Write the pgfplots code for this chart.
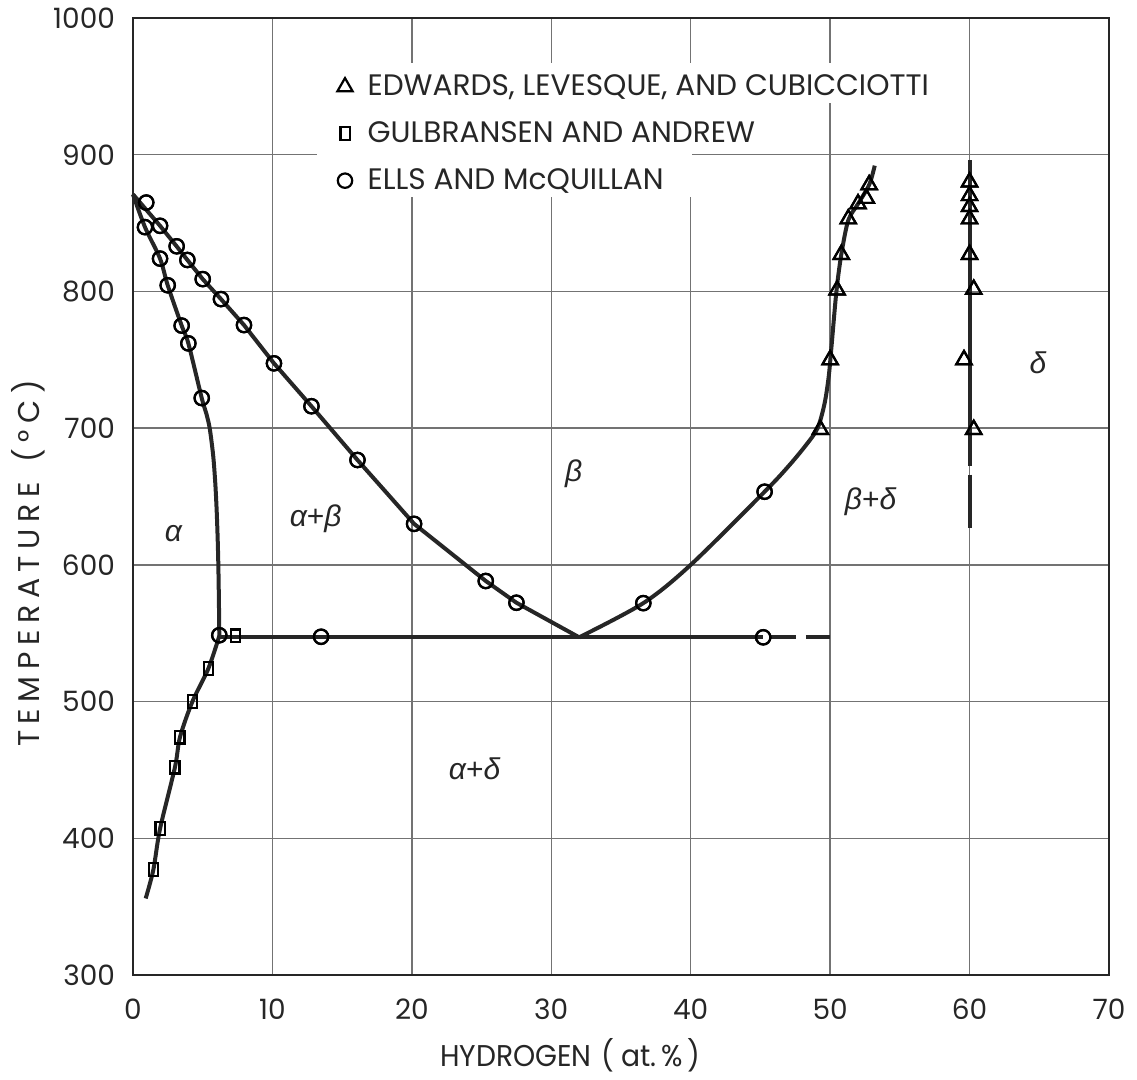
\documentclass[border=0pt]{standalone}
\usepackage{pgfplots}
\pgfplotsset{compat=1.18}
\usepackage{fontspec}
\setmainfont{Poppins}
\newfontfamily\gk{Liberation Sans}
\begin{document}
\begin{tikzpicture}
\begin{axis}[
  scale only axis, width=488pt, height=478.5pt,
  xmin=0, xmax=70, ymin=300, ymax=1000,
  xtick={0,10,...,70}, ytick={300,400,...,1000},
  grid=major, grid style={black!55, line width=0.7pt},
  axis line style={black!85, line width=1pt},
  major tick length=0pt,
  clip=false,
  /pgf/number format/1000 sep={},
  /pgf/number format/assume math mode=true,
  tick label style={font=\fontsize{14}{16}\selectfont, text=black!85},
  xticklabel style={yshift=-8.5pt},
  yticklabel style={xshift=-5.5pt},
  xlabel={HYDROGEN\,\,( at.\,\%\,)},
  ylabel={\addfontfeatures{LetterSpace=22}TEMPERATURE \,(°C)},
  label style={font=\fontsize{15}{17}\selectfont, text=black!85},
  xlabel style={at={(axis description cs:0.448,-0.084)}, anchor=center, xscale=0.94},
  ylabel style={at={(axis description cs:-0.107,0.43)}, anchor=center},
  legend style={at={(axis cs:14.2,964.5)}, anchor=north west, draw=none, fill=none,
    font=\fontsize{14.8}{17}\selectfont, row sep=7.5pt, text=black!85,
    /tikz/every odd column/.append style={column sep=5.5pt}},
  legend cell align=left,
  mark options={solid},
]
% white masks behind legend text
\fill[white] (axis cs:12.0,967) rectangle (axis cs:58.2,938);
\fill[white] (axis cs:12.0,938) rectangle (axis cs:49.0,902.5);
\fill[white] (axis cs:13.2,902.5) rectangle (axis cs:40.1,869);

% legend entries / data marks
\addplot[only marks, mark=triangle, mark size=4.4pt, mark options={fill=white, draw=black, line width=1.1pt}]
 coordinates {(49.3,699) (50.0,750) (50.5,801) (50.8,827) (51.3,853) (52.0,864) (52.6,868) (52.8,878)
 (60,880) (60,870) (60,862) (60,853) (60,827) (60.3,801.5) (59.6,750) (60.3,699)};
\addlegendentry{EDWARDS, LEVESQUE, AND CUBICCIOTTI}
\addplot[only marks, mark=square, mark size=3.2pt, mark options={fill=white, draw=black, line width=1.1pt, xscale=0.72}]
 coordinates {(1.46,377) (1.94,407) (3.01,452) (3.37,474) (4.26,500) (5.4,524) (7.37,548)};
\addlegendentry{GULBRANSEN AND ANDREW}
\addplot[only marks, mark=o, mark size=3.6pt, mark options={fill=white, draw=black, line width=1.1pt}]
 coordinates {(0.95,865) (0.86,847) (1.94,824) (2.49,804.5) (3.49,775) (3.97,762) (4.93,722)
 (1.94,848) (3.13,833) (3.9,823) (5.0,809) (6.31,794.4) (7.96,775.4) (10.11,747.4) (12.8,716)
 (16.1,676.7) (20.16,630) (25.3,588.2) (27.5,572.3) (36.6,572) (45.3,653.5)
 (6.19,548.5) (13.49,547.4) (45.2,547)};
\addlegendentry{ELLS AND McQUILLAN}

% phase boundaries
\addplot[black!85, line width=2pt, smooth, tension=0.5, forget plot]
 coordinates {(0,871) (0.86,847) (1.94,824) (2.49,804.5) (3.49,775) (3.97,762) (4.93,722)
 (5.25,711) (5.5,700) (5.75,680) (5.9,660) (6.0,640) (6.07,620) (6.12,600) (6.16,575) (6.19,548)};
\addplot[black!85, line width=2pt, sharp plot, forget plot]
 coordinates {(0,871) (1.94,848) (3.13,833) (3.9,823) (5.0,809) (6.31,794.4) (7.96,775.4)
 (10.11,747.4) (12.8,716) (16.1,676.7) (20.16,630) (25.3,588.2) (27.5,572.3) (32,547)};
\addplot[black!85, line width=2pt, smooth, tension=0.5, forget plot]
 coordinates {(32,547) (36.6,572) (40,600) (45.3,653.5) (47,672) (48.3,688) (49.1,700)
 (49.6,718) (49.9,738) (50.1,760) (50.45,800) (50.8,827) (51.3,852) (52,864) (52.8,878) (53.2,892)};
\addplot[black!85, line width=2pt, smooth, tension=0.5, forget plot]
 coordinates {(0.91,356) (1.46,377) (1.94,407) (3.01,452) (3.37,474) (4.26,500) (5.4,524) (6.19,548)};
\addplot[black!85, line width=2pt, forget plot] coordinates {(6.19,547) (45.2,547)};
\addplot[black!85, line width=2pt, dash pattern=on 12.5pt off 5pt, forget plot] coordinates {(45.75,547) (50,547)};
\addplot[black!85, line width=2pt, forget plot] coordinates {(60,896) (60,672)};
\addplot[black!85, line width=2pt, forget plot] coordinates {(60,666) (60,627)};

% marks again on top of lines
\addplot[only marks, mark=triangle, mark size=4.4pt, mark options={fill=white, draw=black, line width=1.1pt}, forget plot]
 coordinates {(49.3,699) (50.0,750) (50.5,801) (50.8,827) (51.3,853) (52.0,864) (52.6,868) (52.8,878)
 (60,880) (60,870) (60,862) (60,853) (60,827) (60.3,801.5) (59.6,750) (60.3,699)};
\addplot[only marks, mark=square, mark size=3.2pt, mark options={fill=white, draw=black, line width=1.1pt, xscale=0.72}, forget plot]
 coordinates {(1.46,377) (1.94,407) (3.01,452) (3.37,474) (4.26,500) (5.4,524) (7.37,548)};
\addplot[only marks, mark=o, mark size=3.6pt, mark options={fill=white, draw=black, line width=1.1pt}, forget plot]
 coordinates {(0.95,865) (0.86,847) (1.94,824) (2.49,804.5) (3.49,775) (3.97,762) (4.93,722)
 (1.94,848) (3.13,833) (3.9,823) (5.0,809) (6.31,794.4) (7.96,775.4) (10.11,747.4) (12.8,716)
 (16.1,676.7) (20.16,630) (25.3,588.2) (27.5,572.3) (36.6,572) (45.3,653.5)
 (6.19,548.5) (13.49,547.4) (45.2,547)};

% region labels
\node[font=\gk\itshape\fontsize{15}{17}\selectfont, text=black!85] at (axis cs:2.9,623) {α};
\node[font=\gk\fontsize{15}{17}\selectfont, text=black!85] at (axis cs:13.1,634) {\itshape α\upshape+\itshape β};
\node[font=\gk\itshape\fontsize{15}{17}\selectfont, text=black!85] at (axis cs:31.6,667) {β};
\node[font=\gk\fontsize{15}{17}\selectfont, text=black!85] at (axis cs:52.9,646) {\itshape β\upshape+\itshape δ};
\node[font=\gk\itshape\fontsize{15}{17}\selectfont, text=black!85] at (axis cs:64.9,748) {δ};
\node[font=\gk\fontsize{15}{17}\selectfont, text=black!85] at (axis cs:24.5,451) {\itshape α\upshape+\itshape δ};

% bounding box matching the reference proportions
\path ([shift={(-66.5pt,-52pt)}]rel axis cs:0,0) rectangle ([shift={(14pt,9pt)}]rel axis cs:1,1);
\end{axis}
\end{tikzpicture}
\end{document}
